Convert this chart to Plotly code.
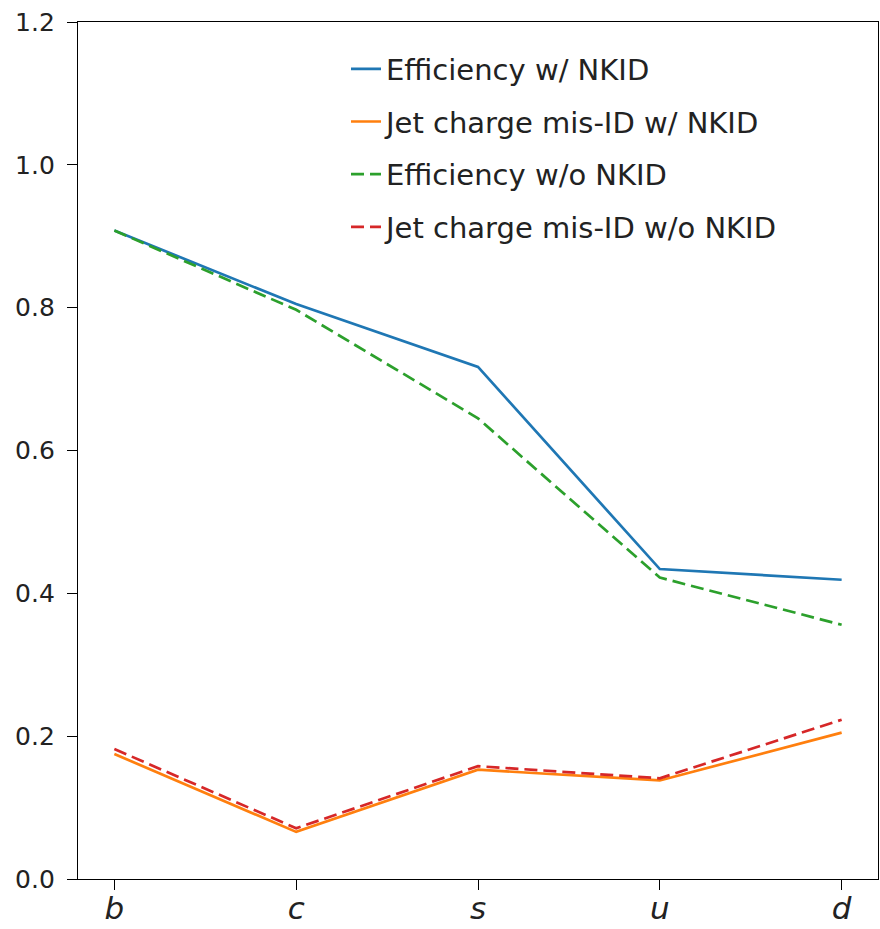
import plotly.graph_objects as go

flavors = ["b", "c", "s", "u", "d"]
eff_with_nkid = [0.908, 0.805, 0.717, 0.434, 0.419]
misid_with_nkid = [0.175, 0.066, 0.153, 0.138, 0.205]
eff_without_nkid = [0.908, 0.797, 0.645, 0.422, 0.356]
misid_without_nkid = [0.182, 0.071, 0.158, 0.141, 0.223]
y_ticks = [0, 0.2, 0.4, 0.6, 0.8, 1.0, 1.2]

series = [
    ("Efficiency w/ NKID", eff_with_nkid, "#1f77b4", "solid"),
    ("Jet charge mis-ID w/ NKID", misid_with_nkid, "#ff7f0e", "solid"),
    ("Efficiency w/o NKID", eff_without_nkid, "#2ca02c", "13px,6px"),
    ("Jet charge mis-ID w/o NKID", misid_without_nkid, "#d62728", "13px,6px"),
]

xidx = list(range(len(flavors)))
fig = go.Figure()
for i, (name, vals, color, dash) in enumerate(series):
    fig.add_trace(go.Scatter(
        x=xidx, y=vals, mode="lines", name=name,
        legendgroup=f"g{i}",
        line=dict(color=color, width=2.7, dash=dash),
    ))

axis_common = dict(
    showline=True, linecolor="black", linewidth=1.3, mirror=True,
    ticks="outside", ticklen=10, tickwidth=1.3, tickcolor="black",
    showgrid=False, zeroline=False, automargin=False,
)

fig.update_xaxes(
    range=[-0.2, 4.2],
    tickmode="array", tickvals=xidx,
    ticktext=[f"<i>{f}</i>" for f in flavors],
    tickfont=dict(family="DejaVu Sans", size=31, color="#222222"),
    ticklabelstandoff=-8,
    **axis_common,
)
fig.update_yaxes(
    range=[0, 1.2],
    tickmode="array", tickvals=y_ticks,
    tickformat=".1f",
    tickfont=dict(family="DejaVu Sans", size=25, color="#222222"),
    ticklabelstandoff=7,
    **axis_common,
)

fig.update_layout(
    width=880, height=929,
    margin=dict(l=78, r=2, t=22, b=50),
    paper_bgcolor="white", plot_bgcolor="white",
    font=dict(family="DejaVu Sans", color="#222222"),
    legend=dict(
        x=0.335, y=0.975, xanchor="left", yanchor="top",
        font=dict(family="DejaVu Sans", size=29, color="#222222"),
        bgcolor="rgba(0,0,0,0)", borderwidth=0,
        tracegroupgap=12, traceorder="grouped",
    ),
    showlegend=True,
)

fig.write_html(
    "out.html",
    config={"displayModeBar": False},
    post_script="document.body.style.margin='0';document.body.style.overflow='hidden';",
)
